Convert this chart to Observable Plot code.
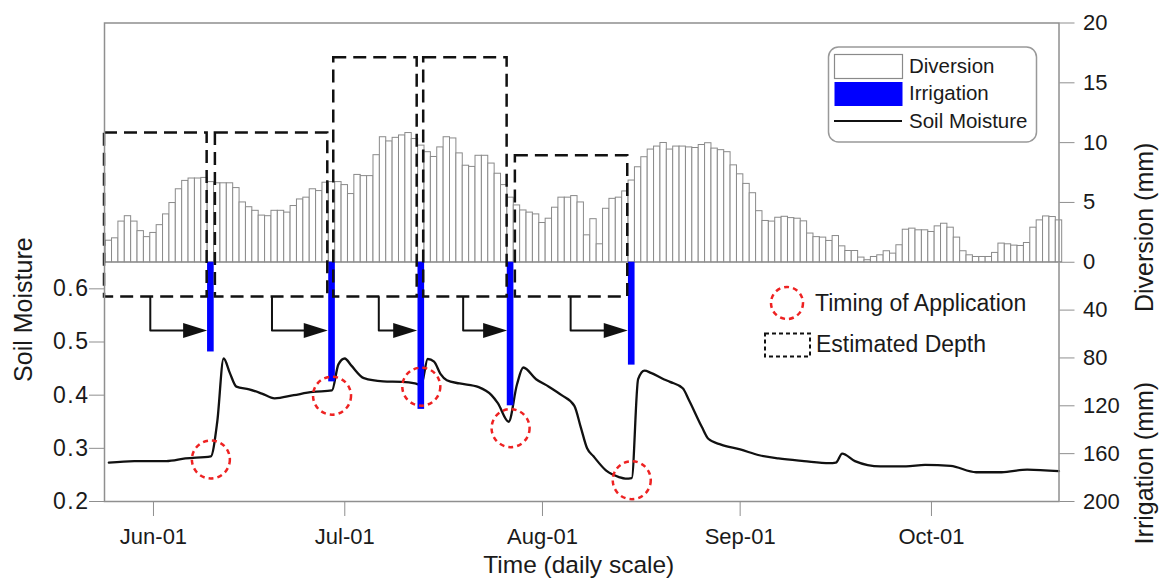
<!DOCTYPE html>
<html><head><meta charset="utf-8">
<script src="https://cdn.jsdelivr.net/npm/d3@7"></script>
<script src="https://cdn.jsdelivr.net/npm/@observablehq/plot@0.6"></script>
<style>
html,body{margin:0;padding:0;background:#fff;}
#chart{position:relative;width:1160px;height:581px;}
</style></head><body><div id="chart"></div>
<script>
// ---------- data ----------
const firstDay = "2013-05-25"; // first daily diversion bar
const diversion = [1.8,2.0,3.4,3.85,3.4,2.6,2.1,2.45,3.1,4.0,
 4.95,6.1,6.8,7.0,7.0,7.05,6.7,6.6,6.6,6.6,
 6.2,5.0,4.6,4.3,3.9,3.85,4.3,4.3,4.15,4.7,
 5.25,5.4,6.1,5.95,6.65,6.7,6.7,6.45,5.7,7.3,
 7.2,7.2,8.95,10.45,10.1,10.4,10.6,10.8,10.3,9.75,
 9.2,8.8,9.6,10.45,10.35,9.1,8.07,7.97,8.9,8.9,
 8.25,7.4,6.45,5.4,4.75,4.33,4.15,4.0,3.28,3.64,
 4.56,5.4,5.4,5.53,5.0,2.25,3.6,1.5,4.47,5.3,
 5.4,5.92,6.83,7.94,8.78,9.42,9.67,9.97,9.42,9.67,
 9.67,9.6,9.55,9.8,9.95,9.5,9.37,9.2,8.1,7.35,
 6.55,5.77,4.27,3.45,3.4,3.72,3.8,3.69,3.64,3.42,
 2.4,2.1,2.06,1.78,2.19,1.33,0.94,0.94,0.39,0.17,
 0.44,0.58,0.92,0.72,1.42,2.72,2.81,2.67,2.67,2.53,
 3.0,3.22,2.89,2.06,0.92,0.58,0.44,0.44,0.44,0.78,
 1.56,1.5,1.39,1.36,1.61,2.89,3.5,3.83,3.78,3.5];

const irrigationDates = ["2013-06-10","2013-06-29","2013-07-13","2013-07-27","2013-08-15"];
const irrigationDepth = [75, 100, 123, 120, 86];          // mm
const applicationMoisture = [0.279, 0.399, 0.416, 0.338, 0.240]; // timing circles

// soil moisture: day offset from firstDay, value
const smDay = [0,4,9,12,16,17,18,19,20,22,24,26,29,32,35,36,37,38,40,43,46,48,49,50,51,52,53,55,58,60,61,62.7,64,65,67,69,71,73,74,75,76,78,80,81,82,83,84,85,87,88,90,91,93,94,96,99,102,105,109,113,114,115,117,121,125,128,132,136,140,144,149];
const smValue = [0.273,0.276,0.276,0.281,0.285,0.35,0.469,0.441,0.416,0.411,0.403,0.394,0.400,0.406,0.409,0.458,0.469,0.456,0.432,0.426,0.425,0.422,0.419,0.468,0.463,0.44,0.428,0.422,0.415,0.400,0.385,0.35,0.42,0.452,0.43,0.416,0.400,0.38,0.34,0.30,0.285,0.258,0.246,0.243,0.244,0.43,0.446,0.442,0.43,0.425,0.413,0.39,0.34,0.318,0.307,0.298,0.287,0.281,0.276,0.272,0.273,0.29,0.276,0.266,0.266,0.269,0.267,0.255,0.255,0.26,0.257];

// estimated-depth windows
const estStart = ["2013-05-24T07:40","2013-06-10T17:00","2013-06-29T06:30","2013-07-13T09:00","2013-07-27T18:00"];
const estEnd   = ["2013-06-09T10:00","2013-06-28T08:00","2013-07-12T08:30","2013-07-26T11:00","2013-08-14T09:00"];
const estTop   = [10.8, 10.8, 17.1, 17.1, 8.9];   // diversion mm
const estBase  = 29;                               // irrigation mm
const arrowStart = ["2013-05-31T12:00","2013-06-19T14:00","2013-07-06T08:00","2013-07-19T13:30","2013-08-05T10:00"];
const arrowLevel = 57;                             // irrigation mm

const xTickDates  = ["2013-06-01","2013-07-01","2013-08-01","2013-09-01","2013-10-01"];
const xTickLabels = ["Jun-01","Jul-01","Aug-01","Sep-01","Oct-01"];
const smTicks  = [0.2, 0.3, 0.4, 0.5, 0.6];
const divTicks = [0, 5, 10, 15, 20];
const irrTicks = [40, 80, 120, 160, 200];

// ---------- helpers ----------
const DAY = 864e5;
const utc = s => new Date(s.length === 10 ? s + "T00:00Z" : s + "Z");
const t0 = +utc(firstDay);
const dayToDate = k => new Date(t0 + k * DAY);
const SM0 = 0.65, SMTOP = 1.1, SMBOT = 0.2;
const divY = mm => SM0 + mm * (SMTOP - SM0) / 20;
const irrY = mm => SM0 - mm * (SM0 - SMBOT) / 200;

const divData = diversion.map((v, i) => ({date: dayToDate(i), v}));
const irrData = irrigationDates.map((d, i) => ({date: utc(d), depth: irrigationDepth[i], sm: applicationMoisture[i]}));
const smData = smDay.map((k, i) => ({date: dayToDate(k), v: smValue[i]}));
const estData = estStart.map((s, i) => ({s: utc(s), e: utc(estEnd[i]), top: estTop[i]}));
const arrowPts = [];
estData.forEach((d, k) => {
  const a = utc(arrowStart[k]);
  arrowPts.push({k, x: a, y: irrY(estBase)});
  arrowPts.push({k, x: a, y: irrY(arrowLevel)});
  arrowPts.push({k, x: new Date(+d.e - 1.5 * DAY), y: irrY(arrowLevel)});
});
const arrowHead = {draw(ctx) { ctx.moveTo(0, 0); ctx.lineTo(-24, -7.5); ctx.lineTo(-24, 7.5); ctx.closePath(); }};

const FONT = "'Liberation Sans', Arial, sans-serif";
const TXT = "#1a1a1a", GRID = "#8f8f8f";

const chart = Plot.plot({
  width: 1160, height: 581,
  marginLeft: 104, marginRight: 101.5, marginTop: 22.5, marginBottom: 80,
  style: {fontFamily: FONT, fontSize: "22px", color: TXT, background: "#fff", overflow: "visible"},
  x: {type: "utc", domain: [utc("2013-05-24T07:40"), utc("2013-10-21T00:00")], axis: null},
  y: {domain: [SMBOT, SMTOP], axis: null},
  marks: [
    Plot.rect(divData, {x1: d => new Date(+d.date - DAY/2), x2: d => new Date(+d.date + DAY/2),
      y1: SM0, y2: d => divY(d.v), fill: "#fff", stroke: "#8a8a8a", strokeWidth: 1}),
    Plot.ruleY([SM0], {stroke: GRID, strokeWidth: 1}),
    Plot.line(smData, {x: "date", y: "v", stroke: "#111", strokeWidth: 2.3, curve: "monotone-x"}),
    Plot.rect(irrData, {x1: d => new Date(+d.date - 0.52*DAY), x2: d => new Date(+d.date + 0.52*DAY),
      y1: SM0, y2: d => irrY(d.depth), fill: "#0000ff"}),
    Plot.rect(estData, {x1: "s", x2: "e", y1: irrY(estBase), y2: d => divY(d.top),
      fill: "none", stroke: "#111", strokeWidth: 2.5, strokeDasharray: "13,7"}),
    Plot.line(arrowPts, {x: "x", y: "y", z: "k", stroke: "#111", strokeWidth: 2, curve: "linear"}),
    Plot.dot(estData, {x: "e", y: irrY(arrowLevel), symbol: arrowHead, fill: "#111", stroke: "none", r: 5}),
    Plot.dot(irrData, {x: "date", y: "sm", r: 19, fill: "none", stroke: "#ee2222", strokeWidth: 2.5, strokeDasharray: "5,4"}),
    Plot.frame({stroke: GRID, strokeWidth: 1.5}),
    Plot.axisX(xTickDates.map(utc), {anchor: "bottom", tickSize: 15, tickPadding: 12, stroke: GRID, fill: TXT, fontSize: 22,
      tickFormat: d => xTickLabels[xTickDates.findIndex(s => +utc(s) === +d)], label: null}),
    Plot.axisY(smTicks, {anchor: "left", tickSize: 15, tickPadding: 0, stroke: GRID, fill: TXT, fontSize: 23,
      tickFormat: d3.format(".1f"), label: null}),
    Plot.axisY(divTicks.map(divY), {anchor: "right", tickSize: 15, tickPadding: 9, stroke: GRID, fill: TXT, fontSize: 22,
      tickFormat: v => Math.round((v - SM0) / (SMTOP - SM0) * 20), label: null}),
    Plot.axisY(irrTicks.map(irrY), {anchor: "right", tickSize: 15, tickPadding: 9, stroke: GRID, fill: TXT, fontSize: 22,
      tickFormat: v => Math.round((SM0 - v) / (SM0 - SMBOT) * 200), label: null}),
    Plot.text([{t: "Soil Moisture", y: (SMBOT + SM0) / 2}], {text: "t", y: "y", frameAnchor: "left", dx: -81, rotate: -90, fontSize: 25, fill: TXT}),
    Plot.text([{t: "Diversion (mm)", y: divY(10)}], {text: "t", y: "y", frameAnchor: "right", dx: 86, rotate: -90, fontSize: 25, fill: TXT}),
    Plot.text([{t: "Irrigation (mm)", y: irrY(100)}], {text: "t", y: "y", frameAnchor: "right", dx: 86, rotate: -90, fontSize: 25, fill: TXT}),
    Plot.text([{t: "Time (daily scale)"}], {text: "t", frameAnchor: "bottom", dx: -3, dy: 71, lineAnchor: "bottom", fontSize: 24.5, fill: TXT})
  ]
});
document.getElementById("chart").appendChild(chart);
// left soil-moisture tick labels are drawn a little wider in the reference
const yLabelGroups = chart.querySelectorAll('g[aria-label="y-axis tick label"]');
if (yLabelGroups.length) yLabelGroups[0].setAttribute("letter-spacing", "1.5");

// ---------- legends ----------
const g = d3.select(chart).append("g").attr("font-family", FONT).attr("fill", TXT).attr("text-anchor", "start");
g.append("rect").attr("x", 828.5).attr("y", 47).attr("width", 208).attr("height", 95).attr("rx", 10)
  .attr("fill", "#fff").attr("stroke", "#999").attr("stroke-width", 1.5);
g.append("rect").attr("x", 834.5).attr("y", 54.5).attr("width", 68).attr("height", 24)
  .attr("fill", "#fff").attr("stroke", "#8a8a8a").attr("stroke-width", 1.2);
g.append("rect").attr("x", 834.5).attr("y", 82).attr("width", 68).attr("height", 24).attr("fill", "#0000ff");
g.append("line").attr("x1", 834).attr("x2", 902).attr("y1", 121).attr("y2", 121).attr("stroke", "#111").attr("stroke-width", 2.2);
[["Diversion", 73], ["Irrigation", 100], ["Soil Moisture", 128]].forEach(([t, y]) =>
  g.append("text").attr("x", 909).attr("y", y).attr("font-size", 20.5).attr("text-anchor", "start").text(t));
g.append("circle").attr("cx", 787).attr("cy", 303).attr("r", 16).attr("fill", "none")
  .attr("stroke", "#ee2222").attr("stroke-width", 2.5).attr("stroke-dasharray", "5,4");
g.append("text").attr("x", 815).attr("y", 311).attr("font-size", 23).attr("text-anchor", "start").text("Timing of Application");
g.append("rect").attr("x", 765).attr("y", 333.5).attr("width", 45).attr("height", 23).attr("fill", "none")
  .attr("stroke", "#111").attr("stroke-width", 2).attr("stroke-dasharray", "4,3");
g.append("text").attr("x", 816).attr("y", 352).attr("font-size", 23).attr("text-anchor", "start").text("Estimated Depth");
</script></body></html>
